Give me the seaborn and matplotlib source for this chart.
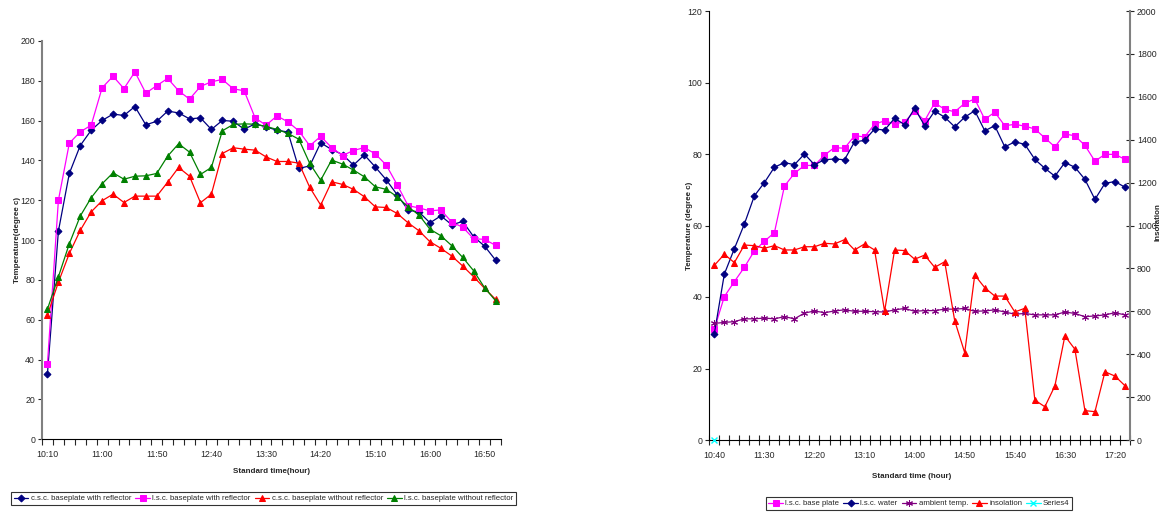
import numpy as np
import pandas as pd
import matplotlib
matplotlib.use("Agg")
import matplotlib.pyplot as plt
import seaborn as sns

# ---- data: left chart (10:10 .. 17:00, every 10 min) ----
left_times = pd.date_range("10:10", "17:00", freq="10min").strftime("%H:%M").tolist()
csc_with = [33, 104.5, 133.5, 147.5, 155.2, 160.1, 163.3, 162.6, 167.1, 157.9, 159.7,
            164.8, 163.9, 160.9, 161.4, 155.6, 160.1, 159.7, 155.7, 158.4, 156.9,
            155.2, 154.3, 136, 137.3, 148.9, 145.5, 143, 137.7, 142.8, 136.7,
            130.3, 122.8, 115.1, 114.1, 108.7, 112.2, 107.7, 109.4, 101.7, 97, 90]
lsc_with = [38, 120, 148.7, 154.4, 157.7, 176.5, 182.3, 176.1, 184.5, 173.8, 177.6,
            181.2, 175, 170.8, 177.2, 179.5, 180.7, 176, 175, 161.4, 157.7,
            162.4, 159.4, 154.9, 147.4, 152.1, 146.5, 142.5, 145, 146.5, 143.3,
            137.7, 127.8, 117.3, 116.2, 114.7, 115.2, 109, 106.5, 100.7, 100.4, 97.4]
csc_without = [62.5, 78.9, 93.3, 104.9, 114.2, 119.8, 123.1, 118.9, 122.1, 122.1, 122.1,
               129.1, 136.5, 132.1, 118.8, 123.1, 143.5, 146.4, 145.7, 145.2, 141.8,
               139.5, 139.5, 138.7, 126.5, 117.6, 129.3, 128, 125.5, 121.8, 116.7,
               116.4, 113.4, 108.7, 104.7, 99.2, 95.9, 92, 87, 81.6, 75.8, 70.3]
lsc_without = [65.4, 81.6, 98.2, 112.1, 121.3, 128.3, 133.8, 130.6, 132.1, 132.3, 133.5,
               142.2, 148.4, 144.2, 133, 136.5, 154.9, 158.1, 158.4, 158.2, 157.1,
               155.6, 153.6, 150.7, 138.5, 130.1, 140.2, 138.2, 135.2, 131.8, 126.8,
               125.5, 121.8, 116.7, 112.6, 105.5, 102.2, 97.2, 91.3, 84.6, 76.1, 69.6]

# ---- data: right chart (10:40 .. 17:30, every 10 min) ----
right_times = pd.date_range("10:40", "17:30", freq="10min").strftime("%H:%M").tolist()
base_plate = [31, 40.1, 44.3, 48.3, 52.9, 55.6, 58, 71, 74.6, 76.8, 76.8,
              79.7, 81.8, 81.6, 85.1, 84.8, 88.3, 89.3, 88.4, 89, 92,
              89.3, 94.3, 92.5, 91.8, 94.2, 95.4, 89.7, 91.7, 87.9, 88.3,
              87.8, 87, 84.5, 82, 85.6, 85.1, 82.4, 78, 79.9, 79.9, 78.5]
water = [29.7, 46.4, 53.5, 60.4, 68.3, 72, 76.3, 77.6, 77, 80, 77,
         78.4, 78.6, 78.4, 83.4, 83.8, 87, 86.7, 90, 88.2, 92.8,
         87.9, 92, 90.3, 87.6, 90.3, 92.1, 86.5, 87.9, 82, 83.4,
         82.7, 78.5, 76, 73.8, 77.6, 76.3, 72.9, 67.3, 71.8, 72.3, 70.7]
ambient = [32.6, 32.9, 33.1, 33.9, 33.9, 34.1, 33.9, 34.5, 33.9, 35.5, 36.1,
           35.6, 36.1, 36.4, 36, 36, 35.9, 35.8, 36.4, 36.8, 36,
           36.2, 36.2, 36.6, 36.6, 36.8, 36, 36.1, 36.4, 35.8, 35.2,
           35.4, 35, 35, 35, 35.8, 35.4, 34.5, 34.7, 35, 35.6, 35]
insolation = [814, 866, 827, 909, 906, 894, 906, 886, 886, 901, 901,
              917, 914, 934, 886, 914, 886, 600, 886, 883, 843,
              862, 805, 831, 556, 407, 769, 710, 671, 671, 597,
              614, 186, 155, 252, 485, 423, 137, 132, 318, 298, 253]
series4 = [0]

sns.set_style("ticks")
plt.rcParams["font.family"] = ["Liberation Sans", "DejaVu Sans"]
tick_fs = 6.3
leg_fs = 5.6
plt.rcParams["font.size"] = tick_fs

fig = plt.figure(figsize=(11.61, 5.15), dpi=100)
ax1 = fig.add_axes([42 / 1161, 75.7 / 515, 459 / 1161, 398.3 / 515])
ax2 = fig.add_axes([709.3 / 1161, 75 / 515, 420.7 / 1161, 429 / 515])
ax3 = ax2.twinx()

lw = 0.9


def draw(ax, values, color, marker, ms, label):
    sns.lineplot(x=np.arange(len(values)), y=values, ax=ax, color=color, marker=marker,
                 markersize=ms, markeredgecolor=color, markerfacecolor=color,
                 linewidth=lw, label=label, legend=False)


# left chart
draw(ax1, csc_with, "#000080", "D", 3.5, "c.s.c. baseplate with reflector")
draw(ax1, lsc_with, "#FF00FF", "s", 4.5, "l.s.c. baseplate with reflector")
draw(ax1, csc_without, "#FF0000", "^", 4.5, "c.s.c. baseplate without reflector")
draw(ax1, lsc_without, "#008000", "^", 4.5, "l.s.c. baseplate without reflector")

# right chart
draw(ax2, base_plate, "#FF00FF", "s", 4.5, "l.s.c. base plate")
draw(ax2, water, "#000080", "D", 3.5, "l.s.c. water")
draw(ax2, ambient, "#800080", (6, 2, 0), 5, "ambient temp.")
draw(ax3, insolation, "#FF0000", "^", 4.5, "insolation")
ax2.plot([0], series4, color="#00FFFF", marker="x", markersize=4, linewidth=lw,
         label="Series4", clip_on=False, zorder=5)


def setup_x(ax, times):
    n = len(times)
    ax.set_xlim(-0.5, n - 0.5)
    ax.set_xticks(np.arange(n + 1) - 0.5)
    ax.set_xticklabels([])
    ax.set_xticks(np.arange(0, n, 5), minor=True)
    ax.set_xticklabels(times[::5], minor=True)
    ax.tick_params(axis="x", which="minor", length=0, pad=8, labelsize=tick_fs)
    ax.tick_params(axis="x", which="major", length=4, width=0.8)


setup_x(ax1, left_times)
setup_x(ax2, right_times)
ax2.tick_params(axis="x", which="major", direction="inout", length=7)

ax1.set_ylim(0, 200)
ax1.set_yticks(np.arange(0, 201, 20))
ax1.tick_params(axis="y", length=3, width=0.8, labelsize=tick_fs, pad=2)
ax2.set_ylim(0, 120)
ax2.set_yticks(np.arange(0, 121, 20))
ax2.tick_params(axis="y", length=3, width=0.8, labelsize=tick_fs, pad=2)
ax3.set_ylim(0, 2000)
ax3.set_yticks(np.arange(0, 2001, 200))
ax3.tick_params(axis="y", direction="inout", length=6, width=0.8, labelsize=tick_fs, pad=2)

for ax in (ax1, ax2, ax3):
    ax.spines["top"].set_visible(False)
    ax.grid(False)
ax1.spines["right"].set_visible(False)
ax1.spines["left"].set_color("#808080")
ax1.spines["left"].set_linewidth(1.5)
ax1.spines["bottom"].set_color("black")
ax2.spines["right"].set_visible(False)
ax3.spines["left"].set_visible(False)
ax3.spines["bottom"].set_visible(False)
ax3.spines["right"].set_color("#808080")
ax3.spines["right"].set_linewidth(1.5)
for s in ("left", "bottom"):
    ax2.spines[s].set_color("black")

bold = dict(fontsize=5.8, fontweight="bold")
ax1.set_xlabel("Standard time(hour)", **bold)
ax1.xaxis.set_label_coords(0.5, -0.072)
ax1.set_ylabel("Temperature(degree c)", **bold)
ax1.yaxis.set_label_coords(-0.046, 0.5)
ax2.set_xlabel("Standard time (hour)", **bold)
ax2.xaxis.set_label_coords(0.48, -0.078)
ax2.set_ylabel("Temperature (degree c)", **bold)
ax2.yaxis.set_label_coords(-0.038, 0.5)
ax3.set_ylabel("")
fig.text(1158 / 1161, 1 - 222 / 515, "Insolation", rotation=90, ha="center",
         va="center", **bold)

leg_kw = dict(frameon=True, fancybox=False, edgecolor="black", fontsize=leg_fs,
              handlelength=1.9, handletextpad=0.3, columnspacing=0.5,
              borderpad=0.3, borderaxespad=0)
h1, l1 = ax1.get_legend_handles_labels()
leg1 = fig.legend(h1, l1, loc="center", ncol=4,
                  bbox_to_anchor=(263.5 / 1161, 16.5 / 515), **leg_kw)
h2, l2 = ax2.get_legend_handles_labels()
h3, l3 = ax3.get_legend_handles_labels()
hh = [h2[0], h2[1], h2[2], h3[0], h2[3]]
ll = [l2[0], l2[1], l2[2], l3[0], l2[3]]
leg2 = fig.legend(hh, ll, loc="center", ncol=5,
                  bbox_to_anchor=(919 / 1161, 11.5 / 515), **leg_kw)
for leg in (leg1, leg2):
    leg.get_frame().set_linewidth(0.8)

fig.savefig("out.png", dpi=100)
